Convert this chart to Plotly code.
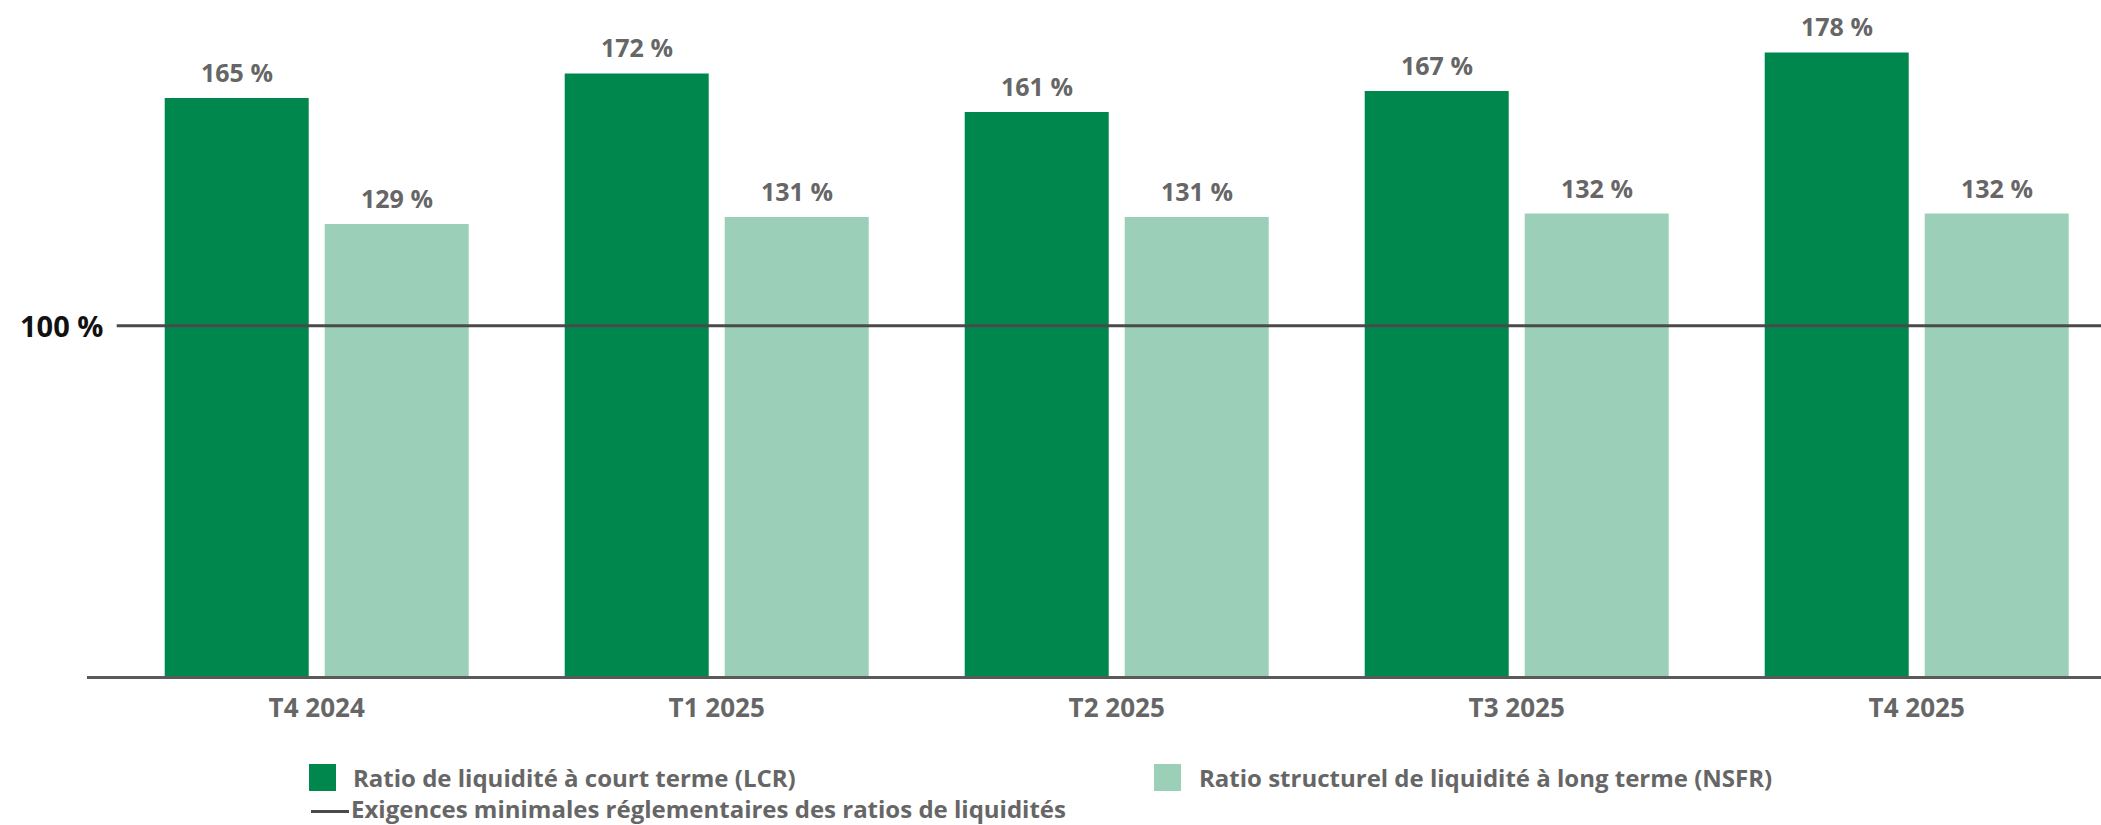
import plotly.graph_objects as go

# Trimestres et ratios de liquidité (%)
trimestres = ["T4 2024", "T1 2025", "T2 2025", "T3 2025", "T4 2025"]
lcr = [165, 172, 161, 167, 178]
nsfr = [129, 131, 131, 132, 132]
minimum_reglementaire = 100

nom_lcr = "Ratio de liquidité à court terme (LCR)"
nom_nsfr = "Ratio structurel de liquidité à long terme (NSFR)"
nom_min = "Exigences minimales réglementaires des ratios de liquidités"

VERT = "#00874E"
VERT_CLAIR = "#9BCFB8"
GRIS = "#666666"
TRAIT = "#4A4A4A"
POLICE = "Open Sans"

W, H = 2101, 825
ML, MR, MT, MB = 87, 0, 0, 149
PW, PH = W - ML - MR, H - MT - MB

BAR_W = 0.36
OFF_LCR, OFF_NSFR = -0.38, 0.02

xs = list(range(len(trimestres)))

fig = go.Figure()
fig.add_trace(go.Bar(x=xs, y=lcr, name=nom_lcr, marker_color=VERT,
                     marker_line_width=0, width=BAR_W, offset=OFF_LCR,
                     showlegend=False, hoverinfo="skip"))
fig.add_trace(go.Bar(x=xs, y=nsfr, name=nom_nsfr, marker_color=VERT_CLAIR,
                     marker_line_width=0, width=BAR_W, offset=OFF_NSFR,
                     showlegend=False, hoverinfo="skip"))
# Ligne du minimum réglementaire
fig.add_trace(go.Scatter(x=[-0.5, len(trimestres)], y=[minimum_reglementaire] * 2,
                         mode="lines", line=dict(color=TRAIT, width=3),
                         name=nom_min, showlegend=False, hoverinfo="skip"))

annotations = []
for i, (a, b) in enumerate(zip(lcr, nsfr)):
    for v, off in ((a, OFF_LCR), (b, OFF_NSFR)):
        annotations.append(dict(x=i + off + BAR_W / 2, y=v, xref="x", yref="y",
                                text=f"{v} %", showarrow=False, yanchor="middle",
                                yshift=26, font=dict(family=POLICE, size=25, color=GRIS,
                                                     weight="bold")))


def px(xp):
    return (xp - ML) / PW


def py(yp):
    return (PH + MT - yp) / PH


annotations.append(dict(x=px(105), y=minimum_reglementaire, xref="paper", yref="y",
                        text=f"{minimum_reglementaire} %", showarrow=False,
                        xanchor="right", yanchor="middle",
                        font=dict(family=POLICE, size=29, color="#111111", weight="bold")))

# Légende
shapes = [
    dict(type="rect", xref="paper", yref="paper", x0=px(309), x1=px(336),
         y0=py(791), y1=py(764), fillcolor=VERT, line_width=0),
    dict(type="rect", xref="paper", yref="paper", x0=px(1154), x1=px(1181),
         y0=py(791), y1=py(764), fillcolor=VERT_CLAIR, line_width=0),
    dict(type="line", xref="paper", yref="paper", x0=px(311), x1=px(349),
         y0=py(811.5), y1=py(811.5), line=dict(color=TRAIT, width=3)),
]
for texte, x0, yc in ((nom_lcr, 351, 777), (nom_nsfr, 1197, 777), (nom_min, 349, 808.5)):
    annotations.append(dict(x=px(x0), y=py(yc), xref="paper", yref="paper", text=texte,
                            showarrow=False, xanchor="left", yanchor="middle",
                            font=dict(family=POLICE, size=24, color=GRIS, weight="bold")))

fig.update_layout(
    width=W, height=H,
    margin=dict(l=ML, r=MR, t=MT, b=MB, pad=0),
    paper_bgcolor="white", plot_bgcolor="white",
    barmode="overlay",
    annotations=annotations, shapes=shapes,
    xaxis=dict(range=[(ML - 316.7) / 400, (W - 316.7) / 400],
               tickvals=xs, ticktext=trimestres, ticks="", showgrid=False,
               zeroline=False, showline=True, linecolor="#5A5A5A", linewidth=3,
               ticklabelstandoff=7,
               tickfont=dict(family=POLICE, size=26, color=GRIS, weight="bold")),
    yaxis=dict(range=[0, PH / 3.503], showticklabels=False, ticks="",
               showgrid=False, zeroline=False, showline=False),
)

fig.write_html("out.html")
